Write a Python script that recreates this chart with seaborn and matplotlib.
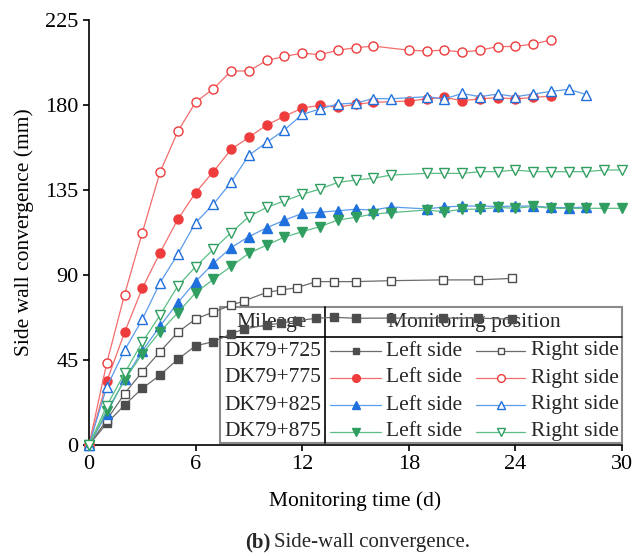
import matplotlib
matplotlib.use("Agg")
import numpy as np
import pandas as pd
import seaborn as sns
import matplotlib.pyplot as plt
from matplotlib.lines import Line2D
from matplotlib.patches import Rectangle

# ---------------- data ----------------
mileages = ["DK79+725", "DK79+775", "DK79+825", "DK79+875"]
sides = ["Left side", "Right side"]

days_725 = [0, 1, 2, 3, 4, 5, 6, 7, 8, 8.7, 10, 10.8, 11.7, 12.8, 13.8, 15, 17, 19.9, 21.9, 23.8]
left_725 = [0, 11.5, 21.1, 30, 37, 45.4, 52.5, 54.7, 58.8, 61.4, 63.5, 64.5, 65.8, 67.1, 67.6, 67.1, 67.2, 67.2, 67.2, 66.6]
right_725 = [0, 13.2, 27.2, 38.8, 49.4, 59.7, 66.7, 70.4, 74, 76.2, 80.8, 82, 83.3, 86.5, 86.5, 86.5, 87, 87.4, 87.4, 88.2]

days_775 = [0, 1, 2, 3, 4, 5, 6, 7, 8, 9, 10, 11, 12, 13, 14, 15, 16, 18, 19, 20, 21, 22, 23, 24, 25, 26]
left_775 = [0, 33.7, 59.6, 83, 101.8, 119.5, 133.6, 144.7, 156.5, 162.9, 169.4, 174, 178.4, 179.8, 178.8, 180.4,
            181.4, 182.1, 183.2, 184, 182.3, 183.2, 183.9, 183.2, 184, 184.7]
right_775 = [0, 43.4, 79.6, 112.4, 144.5, 166, 181.5, 188.6, 198, 198, 203.6, 205.7, 207.5, 206.6, 209, 210.3,
             211.2, 209, 208.6, 209, 208, 209, 210.9, 211, 212.3, 214.4]

days_825 = [0, 1, 2, 3, 4, 5, 6, 7, 8, 9, 10, 11, 12, 13, 14, 15, 16, 17, 19, 20, 21, 22, 23, 24, 25, 26, 27, 28]
left_825 = [0, 16.6, 34.8, 49.8, 63, 75.3, 86.5, 96.2, 104.5, 110.3, 115, 119, 122.6, 123.2, 124, 124.8, 124.4,
            126, 125, 126, 126.5, 126.5, 126.3, 126.5, 126.5, 125.8, 125.6, 126]
right_825 = [0, 30.7, 50.1, 66.5, 85.9, 101.1, 117.7, 127.4, 139.2, 153.4, 160.2, 166.8, 175, 177.9, 180.5, 181,
             183.4, 183.3, 184.4, 183.2, 186.1, 184.4, 185.8, 184.4, 185.8, 187.2, 188.3, 185.5]

days_875 = [0, 1, 2, 3, 4, 5, 6, 7, 8, 9, 10, 11, 12, 13, 14, 15, 16, 17, 19, 20, 21, 22, 23, 24, 25, 26, 27, 28, 29, 30]
left_875 = [0, 18, 34.2, 48.3, 60, 70, 80.6, 87.7, 94.6, 101.5, 105.8, 110.1, 112.9, 115.6, 119.1, 120.5, 122.3,
            123, 124.4, 123.5, 124.8, 124.8, 125.8, 125.3, 126.3, 125.3, 125.3, 125.3, 125.3, 125.3]
right_875 = [0, 20.8, 38, 54.4, 68.8, 84.2, 94.4, 103.6, 112.4, 120.9, 125.8, 129.2, 132.7, 135.5, 139, 140.3,
             141.2, 142.9, 143.8, 143.8, 143.8, 144.7, 144.7, 145.6, 144.7, 144.7, 144.7, 144.7, 145.6, 145.6]

x_ticks = [0, 6, 12, 18, 24, 30]
y_ticks = [0, 45, 90, 135, 180, 225]

# ---------------- style ----------------
sns.set_theme(style="ticks")
plt.rcParams["font.family"] = ["Liberation Serif", "DejaVu Serif"]

line_colors = ["#6b6b6b", "#f26d6d", "#5b9bea", "#5cbd85"]
mark_colors = ["#4d4d4d", "#ee3b3b", "#1f6fdc", "#2f9e60"]
markers = ["s", "o", "^", "v"]
msizes = [5.2, 6.5, 7.0, 7.0]

series = [
    (0, days_725, left_725, True), (0, days_725, right_725, False),
    (1, days_775, left_775, True), (1, days_775, right_775, False),
    (2, days_825, left_825, True), (2, days_825, right_825, False),
    (3, days_875, left_875, True), (3, days_875, right_875, False),
]

W, H = 639, 556
fig = plt.figure(figsize=(W / 100, H / 100), dpi=100)
ax = fig.add_axes([89 / W, 1 - 445 / H, (622 - 89) / W, (445 - 20) / H])
ax.set_facecolor("white")

for k, (i, d, v, filled) in enumerate(series):
    df = pd.DataFrame({"day": d, "value": v})
    sns.lineplot(data=df, x="day", y="value", ax=ax, estimator=None, sort=False,
                 color=line_colors[i], linewidth=0.9, marker=markers[i], markersize=msizes[i],
                 markerfacecolor=mark_colors[i] if filled else "white",
                 markeredgecolor=mark_colors[i], markeredgewidth=1.0,
                 clip_on=False, legend=False, zorder=3 + k * 0.1)

ax.set_xlim(0, 30)
ax.set_ylim(0, 225)
ax.set_xticks(x_ticks)
ax.set_yticks(y_ticks)
ax.set_xticklabels([str(t) for t in x_ticks])
ax.set_yticklabels([str(t) for t in y_ticks])
for s in ["top", "right"]:
    ax.spines[s].set_visible(False)
for s in ["left", "bottom"]:
    ax.spines[s].set_linewidth(1.2)
    ax.spines[s].set_color("black")
ax.tick_params(direction="out", length=4.5, width=1.2, labelsize=16, pad=3, colors="black")
ax.set_xlabel("Monitoring time (d)", fontsize=15.5, labelpad=12, color="black")
ax.set_ylabel("Side wall convergence (mm)", fontsize=15.5, labelpad=8, color="black")

# ---------------- table-style legend ----------------
def P(x, y):
    return (x / W, 1 - y / H)

tf = fig.transFigure
x0, y0, x1, y1 = 220, 307, 622, 443
rect = Rectangle(P(x0, y1), (x1 - x0) / W, (y1 - y0) / H, transform=tf, fill=False,
                 edgecolor="#8a8a8a", linewidth=1.5, clip_on=False, zorder=1)
ax.add_artist(rect)
ax.add_line(Line2D([x0 / W, x1 / W], [1 - 337 / H] * 2, transform=tf, color="black", lw=1.2,
                   clip_on=False, zorder=1))
ax.add_line(Line2D([325 / W] * 2, [1 - y0 / H, 1 - y1 / H], transform=tf, color="black", lw=1.2,
                   clip_on=False, zorder=1))

fs = 15.5
ax.text(*P(272, 322), "Mileage", transform=tf, ha="center", va="center", fontsize=fs, zorder=1)
ax.text(*P(474, 322), "Monitoring position", transform=tf, ha="center", va="center", fontsize=fs, zorder=1)
row_y = [351, 378, 405, 431.5]
for i, ry in enumerate(row_y):
    ax.text(*P(273, ry), mileages[i], transform=tf, ha="center", va="center", fontsize=fs, zorder=1)
    for (lx0, lx1, mx, tx, filled, lab) in [(330, 381, 355.7, 386, True, sides[0]),
                                            (476, 525, 501, 531, False, sides[1])]:
        ax.add_line(Line2D([lx0 / W, lx1 / W], [1 - ry / H] * 2, transform=tf, color=line_colors[i],
                           lw=0.9, clip_on=False, zorder=1))
        ax.add_line(Line2D([mx / W], [1 - ry / H], transform=tf, linestyle="none", marker=markers[i],
                           markersize=msizes[i] * 0.85, markerfacecolor=mark_colors[i] if filled else "white",
                           markeredgecolor=mark_colors[i], markeredgewidth=1.0, clip_on=False, zorder=1))
        ax.text(*P(tx, ry), lab, transform=tf, ha="left", va="center", fontsize=fs, zorder=1)

# ---------------- caption ----------------
fig.text(*P(270, 542), "(b)", ha="right", va="center", fontsize=15, fontweight="bold")
fig.text(*P(274, 542), "Side-wall convergence.", ha="left", va="center", fontsize=15)

fig.savefig("out.png", dpi=100, facecolor="white")
